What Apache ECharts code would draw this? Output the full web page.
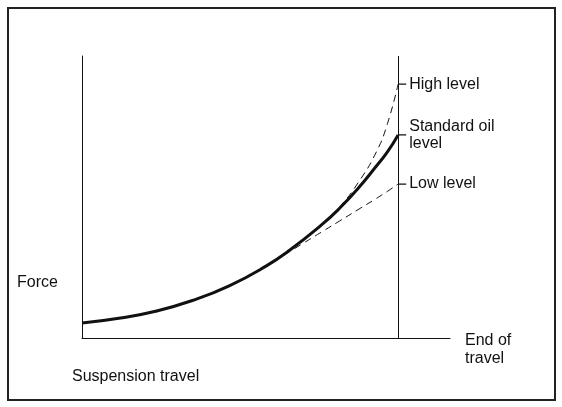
<!DOCTYPE html><html><head><meta charset="utf-8"><script src="https://cdn.jsdelivr.net/npm/echarts@6/dist/echarts.min.js"></script></head><body style="margin:0"><div id="c" style="width:562px;height:407px"></div><script>
const stdX=[0,10,20,30,40,50,56.5,65,70,75,80,83,85.9];
const stdY=[5.3,7,9.5,13.3,18.5,25.5,31.2,40,46,53,61,66,72];
const highX=[55,60,65,70,75,80,83,85.9];
const highY=[30,34.5,40,46.5,55,66,76,90];
const lowX=[55,60,65,70,75,80,83,85.9];
const lowY=[29.5,33.5,37.5,41.5,45.5,49.5,52,54.6];
const endX=85.9;
const levelLabels=[{t:'High level',y:90},{t:'Standard oil\nlevel',y:72},{t:'Low level',y:54.6}];
const z=(a,b)=>a.map((v,i)=>[v,b[i]]);
const ch=echarts.init(document.getElementById('c'));
const F='Liberation Sans, Arial, sans-serif';
const series=[
{type:'line',data:z(stdX,stdY),smooth:true,symbol:'none',lineStyle:{color:'#111',width:3},
 markLine:{silent:true,symbol:'none',label:{show:false},lineStyle:{color:'#111',width:1,type:'solid'},data:[{xAxis:endX}]}},
{type:'line',data:z(highX,highY),smooth:true,symbol:'none',lineStyle:{color:'#111',width:1,type:[7,5]}},
{type:'line',data:z(lowX,lowY),smooth:true,symbol:'none',lineStyle:{color:'#111',width:1,type:[7,5]}}
];
levelLabels.forEach(l=>series.push({type:'line',data:[[endX,l.y],[endX+2.2,l.y]],symbol:'none',lineStyle:{color:'#111',width:1.2},
 endLabel:{show:true,formatter:l.t,fontFamily:F,fontSize:16,color:'#111',lineHeight:17,distance:3}}));
ch.setOption({animation:false,
grid:{left:82,right:112,top:56,bottom:69},
xAxis:{type:'value',min:0,max:100,axisLine:{lineStyle:{color:'#111'}},axisTick:{show:false},axisLabel:{show:false},splitLine:{show:false}},
yAxis:{type:'value',min:0,max:100,axisLine:{show:true,lineStyle:{color:'#111'}},axisTick:{show:false},axisLabel:{show:false},splitLine:{show:false}},
series:series,
graphic:[
{type:'rect',shape:{x:8,y:8,width:547,height:392},style:{fill:'none',stroke:'#222',lineWidth:2}},
{type:'text',left:17,top:275,style:{text:'Force',font:'16px '+F,fill:'#111'}},
{type:'text',left:72,top:369,style:{text:'Suspension travel',font:'16px '+F,fill:'#111'}},
{type:'text',left:465,top:332,style:{text:'End of\ntravel',font:'16px '+F,fill:'#111',lineHeight:18}}
]});
</script></body></html>
